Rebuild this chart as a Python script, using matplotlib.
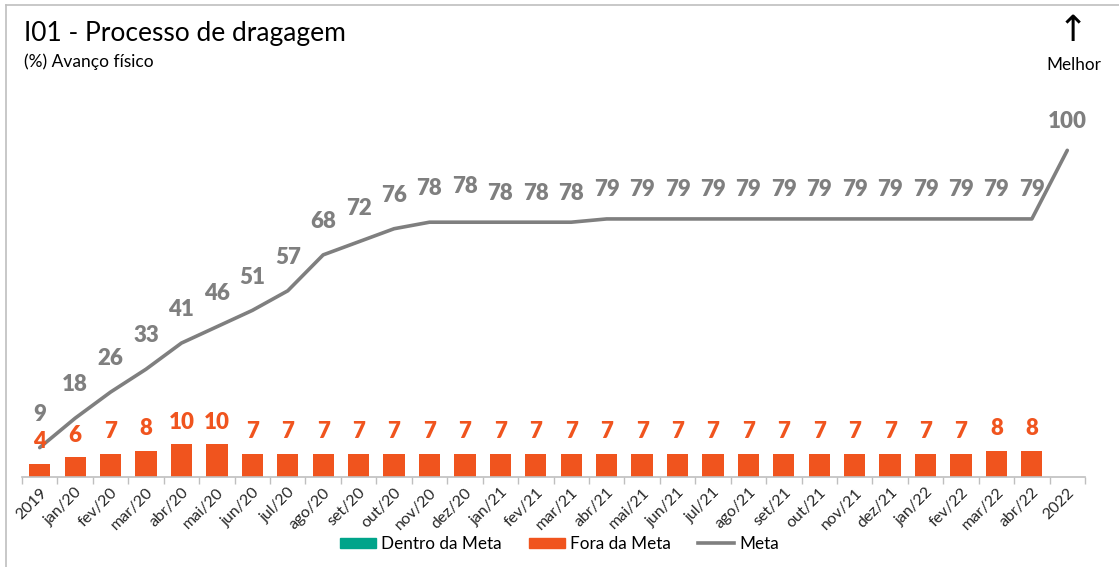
import matplotlib.pyplot as plt
import numpy as np

plt.rcParams['font.family'] = ['Lato', 'DejaVu Sans']

# --- dados ---
periodos = ['2019', 'jan/20', 'fev/20', 'mar/20', 'abr/20', 'mai/20', 'jun/20', 'jul/20',
            'ago/20', 'set/20', 'out/20', 'nov/20', 'dez/20', 'jan/21', 'fev/21', 'mar/21',
            'abr/21', 'mai/21', 'jun/21', 'jul/21', 'ago/21', 'set/21', 'out/21', 'nov/21',
            'dez/21', 'jan/22', 'fev/22', 'mar/22', 'abr/22', '2022']
fora_meta = [4, 6, 7, 8, 10, 10, 7, 7, 7, 7, 7, 7, 7, 7, 7, 7, 7, 7, 7, 7, 7, 7, 7, 7,
             7, 7, 7, 8, 8, None]
meta = [9, 18, 26, 33, 41, 46, 51, 57, 68, 72, 76, 78, 78, 78, 78, 78, 79, 79, 79, 79,
        79, 79, 79, 79, 79, 79, 79, 79, 79, 100]

COR_DENTRO = '#00A48A'
COR_FORA = '#F0541E'
COR_META = '#7F7F7F'

fig = plt.figure(figsize=(11.19, 5.67), dpi=100)
ax = fig.add_axes([22 / 1119, 1 - 477 / 567, 1063 / 1119, 392 / 567])

x = np.arange(len(periodos))
barras_x = [i for i, v in zip(x, fora_meta) if v is not None]
barras_y = [v for v in fora_meta if v is not None]

ax.bar(barras_x, barras_y, width=0.6, color=COR_FORA, zorder=2)
ax.plot(x, meta, color=COR_META, linewidth=2.6, zorder=3, solid_capstyle='round')

# rótulos de valor
for xi, v in zip(barras_x, barras_y):
    ax.annotate(f'{v}', (xi, v), xytext=(0, 16), textcoords='offset points',
                ha='center', va='center', fontsize=16, fontweight='heavy', color=COR_FORA)
for xi, v in zip(x, meta):
    dy = 24 if xi < 12 else 21
    if periodos[xi] == 'dez/20':
        dy = 26
    ax.annotate(f'{v}', (xi, v), xytext=(0, dy), textcoords='offset points',
                ha='center', va='center', fontsize=16, fontweight='heavy', color=COR_META)

ax.set_xlim(-0.5, len(periodos) - 0.5)
ax.set_ylim(0, 120)
ax.set_yticks([])
ax.set_xticks(x)
ax.set_xticklabels(periodos, rotation=45, ha='right', rotation_mode='anchor',
                   fontsize=11.5, color='#262626')
ax.tick_params(axis='x', which='major', length=0, pad=6)
ax.set_xticks(np.arange(-0.5, len(periodos)), minor=True)
ax.tick_params(axis='x', which='minor', length=5, color='#BFBFBF', width=1)
for lado in ['top', 'right', 'left']:
    ax.spines[lado].set_visible(False)
ax.spines['bottom'].set_color('#BFBFBF')
ax.spines['bottom'].set_linewidth(1.2)

# legenda
h_dentro = plt.Rectangle((0, 0), 1, 1, color=COR_DENTRO)
h_fora = plt.Rectangle((0, 0), 1, 1, color=COR_FORA)
h_meta = plt.Line2D([], [], color=COR_META, linewidth=2.6)
fig.legend([h_dentro, h_fora, h_meta], ['Dentro da Meta', 'Fora da Meta', 'Meta'],
           loc='center', bbox_to_anchor=(0.5, 1 - 544 / 567), ncol=3, frameon=False,
           fontsize=12.3, handlelength=2.1, handleheight=0.6, columnspacing=1.6,
           handletextpad=0.3)

# títulos
fig.text(24 / 1119, 1 - 33 / 567, 'I01 - Processo de dragagem', fontsize=19,
         va='center', ha='left', color='#000000')
fig.text(24 / 1119, 1 - 62 / 567, '(%) Avanço físico', fontsize=12.5,
         va='center', ha='left', color='#000000')
fig.text(1073 / 1119, 1 - 31 / 567, '↑', fontsize=26, va='center', ha='center',
         color='#000000', family='DejaVu Sans')
fig.text(1074 / 1119, 1 - 65 / 567, 'Melhor', fontsize=12.3, va='center', ha='center',
         color='#000000')

# moldura
fig.add_artist(plt.Line2D([6 / 1119, 6 / 1119], [0, 1 - 5 / 567], color='#BFBFBF',
                          linewidth=1.2, transform=fig.transFigure))
fig.add_artist(plt.Line2D([6 / 1119, 1], [1 - 5 / 567, 1 - 5 / 567], color='#BFBFBF',
                          linewidth=1.2, transform=fig.transFigure))

fig.savefig('out.png', dpi=100, facecolor='white')
